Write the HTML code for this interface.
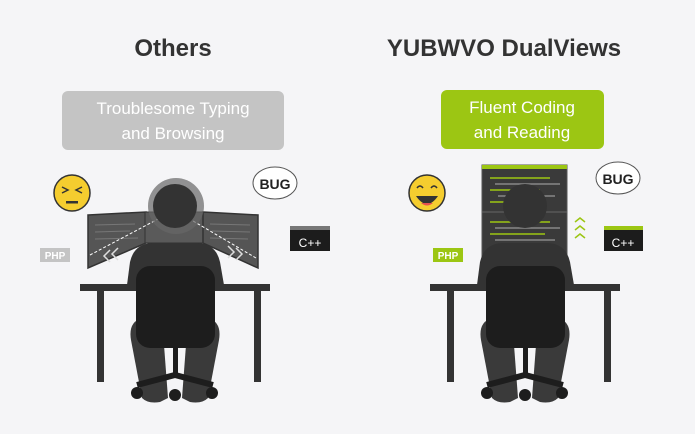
<!DOCTYPE html>
<html><head><meta charset="utf-8"><style>
html,body{margin:0;padding:0;background:#f5f5f7;}
svg{display:block;font-family:"Liberation Sans",sans-serif;}
</style></head><body>
<svg width="695" height="434" viewBox="0 0 695 434" xmlns="http://www.w3.org/2000/svg">
<rect width="695" height="434" fill="#f5f5f7"/>
<text x="173" y="56" text-anchor="middle" font-size="24" font-weight="bold" fill="#333">Others</text>
<text x="504" y="56" text-anchor="middle" font-size="24" font-weight="bold" fill="#333">YUBWVO DualViews</text>
<rect x="62" y="91" width="222" height="59" rx="6" fill="#c4c4c4"/>
<text x="173" y="114" text-anchor="middle" font-size="17" fill="#fff">Troublesome Typing</text>
<text x="173" y="139" text-anchor="middle" font-size="17" fill="#fff">and Browsing</text>
<rect x="441" y="90" width="163" height="59" rx="6" fill="#9cc613"/>
<text x="522" y="113" text-anchor="middle" font-size="17" fill="#fff">Fluent Coding</text>
<text x="522" y="138" text-anchor="middle" font-size="17" fill="#fff">and Reading</text>

<!-- LEFT scene -->
<circle cx="72" cy="193" r="18" fill="#f5cd2f" stroke="#333" stroke-width="1.5"/>
<path d="M62 187 l6 3 -6 3 M82 187 l-6 3 6 3" stroke="#333" stroke-width="1.5" fill="none"/>
<rect x="66" y="201" width="12" height="2.5" fill="#333"/>
<ellipse cx="275" cy="183" rx="22" ry="16" fill="#fff" stroke="#555"/>
<text x="275" y="189" text-anchor="middle" font-size="14" font-weight="bold" fill="#222">BUG</text>
<rect x="40" y="248" width="30" height="14" fill="#c4c4c4"/>
<text x="55" y="259" text-anchor="middle" font-size="10" font-weight="bold" fill="#fff">PHP</text>
<rect x="290" y="226" width="40" height="25" fill="#1c1c1c"/>
<rect x="290" y="226" width="40" height="4" fill="#777"/>
<text x="310" y="247" text-anchor="middle" font-size="12" fill="#fff">C++</text>
<g>
<polygon points="88,215 146,212 146,243 88,268" fill="#555" stroke="#333" stroke-width="1.5"/>
<rect x="145" y="212" width="58" height="31" fill="#5a5a5a" stroke="#333"/>
<polygon points="203,212 258,215 258,268 203,243" fill="#555" stroke="#333" stroke-width="1.5"/>
<g stroke="#777" stroke-width="1">
<line x1="95" y1="225" x2="135" y2="224"/><line x1="95" y1="232" x2="130" y2="231"/><line x1="95" y1="239" x2="138" y2="238"/>
<line x1="210" y1="224" x2="250" y2="225"/><line x1="212" y1="231" x2="250" y2="232"/><line x1="210" y1="238" x2="248" y2="239"/>
</g>
<line x1="90" y1="255" x2="160" y2="218" stroke="#fff" stroke-dasharray="3 2"/>
<line x1="256" y1="258" x2="188" y2="218" stroke="#fff" stroke-dasharray="3 2"/>
<path d="M110 250 l-6 6 6 6 M118 248 l-6 6 6 6 M236 248 l6 6 -6 6 M228 246 l6 6 -6 6" stroke="#ddd" stroke-width="1.5" fill="none"/>
<circle cx="176" cy="206" r="28" fill="#666" opacity="0.7"/>
</g>
<g id="scene">
<circle cx="175" cy="206" r="22" fill="#333"/>
<path d="M127 285 L130 262 Q134 244 152 243 L198 243 Q216 244 220 262 L224 285 Z" fill="#333"/>
<rect x="80" y="284" width="190" height="7" fill="#333"/>
<rect x="97" y="291" width="7" height="91" fill="#333"/>
<rect x="254" y="291" width="7" height="91" fill="#333"/>
<path d="M142 318 Q128 322 131 340 L142 398 Q148 404 160 402 L168 398 L164 345 Z" fill="#3a3a3a"/>
<path d="M208 318 Q222 322 219 340 L208 398 Q202 404 190 402 L182 398 L186 345 Z" fill="#3a3a3a"/>
<rect x="136" y="266" width="79" height="82" rx="14" fill="#1d1d1d"/>
<rect x="173" y="348" width="5" height="30" fill="#1d1d1d"/>
<path d="M137 385 L175 375 L213 385" stroke="#1d1d1d" stroke-width="6" fill="none"/>
<circle cx="137" cy="393" r="6" fill="#1d1d1d"/>
<circle cx="175" cy="395" r="6" fill="#1d1d1d"/>
<circle cx="212" cy="393" r="6" fill="#1d1d1d"/>
</g>

<!-- RIGHT scene -->
<circle cx="427" cy="193" r="18" fill="#f5cd2f" stroke="#333" stroke-width="1.5"/>
<path d="M417 188 q3-4 6 0 M431 188 q3-4 6 0" stroke="#333" stroke-width="1.5" fill="none"/>
<path d="M416 196 Q427 212 438 196 Z" fill="#333"/>
<path d="M421 203 Q427 208 433 203 Z" fill="#e5504f"/>
<ellipse cx="618" cy="178" rx="22" ry="16" fill="#fff" stroke="#555"/>
<text x="618" y="184" text-anchor="middle" font-size="14" font-weight="bold" fill="#222">BUG</text>
<rect x="433" y="248" width="30" height="14" fill="#9cc613"/>
<text x="448" y="259" text-anchor="middle" font-size="10" font-weight="bold" fill="#fff">PHP</text>
<rect x="604" y="226" width="39" height="25" fill="#1c1c1c"/>
<rect x="604" y="226" width="39" height="4" fill="#9cc613"/>
<text x="623" y="247" text-anchor="middle" font-size="12" fill="#fff">C++</text>
<path d="M575 222 l5-4 5 4 M575 230 l5-4 5 4 M575 238 l5-4 5 4" stroke="#9cc613" stroke-width="1.5" fill="none"/>
<rect x="482" y="165" width="85" height="95" fill="#3a3a3a" stroke="#555"/>
<rect x="482" y="165" width="85" height="4" fill="#9cc613"/>
<line x1="482" y1="212" x2="567" y2="212" stroke="#666"/>
<g stroke-width="1.5">
<line x1="490" y1="178" x2="550" y2="178" stroke="#9cc613"/>
<line x1="495" y1="184" x2="560" y2="184" stroke="#888"/>
<line x1="490" y1="190" x2="540" y2="190" stroke="#9cc613"/>
<line x1="498" y1="196" x2="555" y2="196" stroke="#888"/>
<line x1="490" y1="202" x2="530" y2="202" stroke="#9cc613"/>
<line x1="490" y1="222" x2="550" y2="222" stroke="#9cc613"/>
<line x1="495" y1="228" x2="560" y2="228" stroke="#888"/>
<line x1="490" y1="234" x2="545" y2="234" stroke="#9cc613"/>
<line x1="495" y1="240" x2="555" y2="240" stroke="#888"/>
</g>
<use href="#scene" transform="translate(350,0)"/>
</svg>
</body></html>
